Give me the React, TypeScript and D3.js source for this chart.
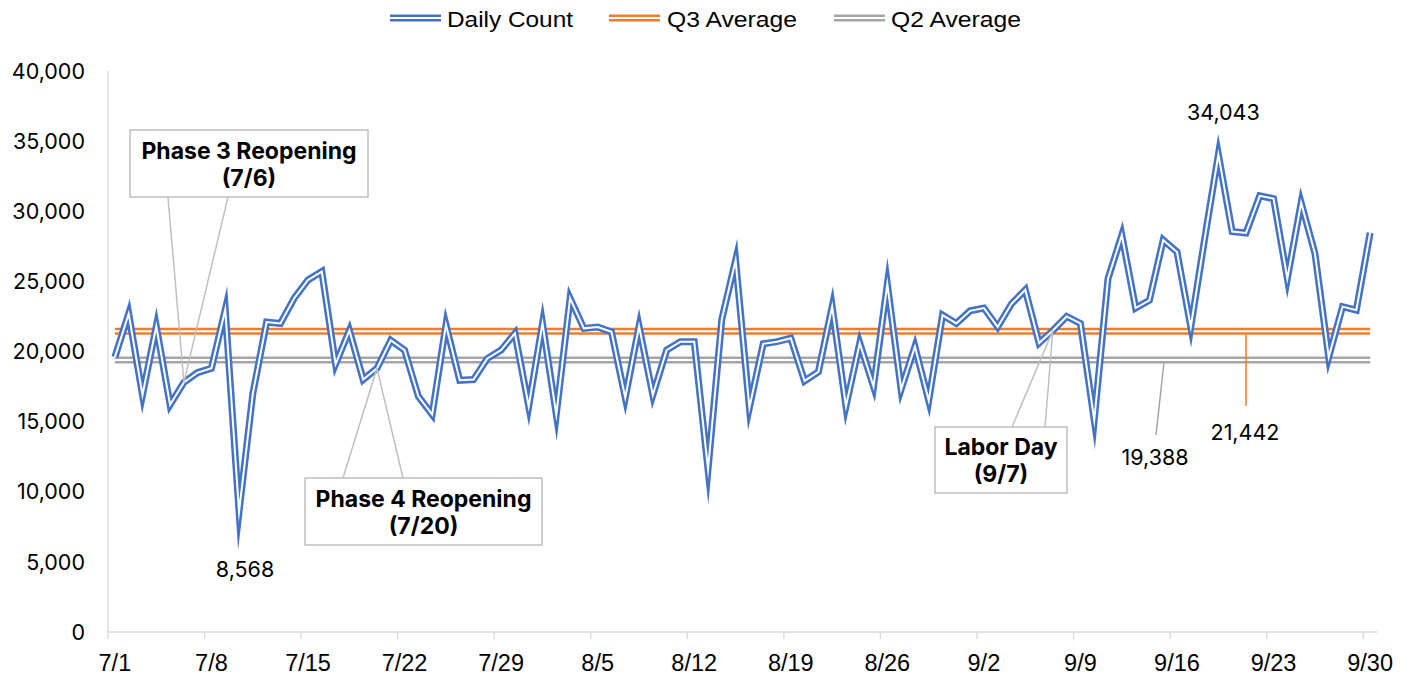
import React from "react";
import * as d3 from "d3";

// ---- data ----
const startDate = new Date(2020, 6, 1);
const endDate = new Date(2020, 9, 1);
const dates: Date[] = d3.timeDay.range(startDate, endDate);

const dailyCount: number[] = [
  19600, 22700, 16900, 21800, 16200, 17800, 18500, 18800, 23000, 8568,
  17000, 22100, 22000, 23800, 25100, 25700, 19100, 21500, 18000, 18800,
  20800, 20100, 16800, 15500, 21900, 17950, 18000, 19500, 20100, 21300,
  16100, 22000, 15500, 23800, 21650, 21750, 21400, 16700, 21800, 16900,
  20100, 20700, 20700, 11600, 22300, 26500, 16000, 20550, 20700, 20950,
  17900, 18550, 23200, 16100, 20600, 17500, 24800, 17300, 20350, 16500,
  22600, 22000, 22900, 23100, 21750, 23400, 24400, 20600, 21500, 22500,
  22000, 15100, 25200, 28300, 23100, 23650, 27950, 27100, 21750, 28000,
  34043, 28550, 28450, 31100, 30900, 25200, 30600, 27000, 19600, 23200,
  22950, 28450,
];
const q3Average = 21442;
const q2Average = 19388;

const seriesNames = ["Daily Count", "Q3 Average", "Q2 Average"];
const seriesColors = ["#4472C4", "#ED7D31", "#A5A5A5"];
const yTickValues = [0, 5000, 10000, 15000, 20000, 25000, 30000, 35000, 40000];

const callouts = [
  { lines: ["Phase 3 Reopening", "(7/6)"], index: 5, box: [130, 130, 238, 67], legs: [168, 228], fromTop: false },
  { lines: ["Phase 4 Reopening", "(7/20)"], index: 19, box: [305, 478, 237, 67], legs: [343, 403], fromTop: true },
  { lines: ["Labor Day", "(9/7)"], index: 68, box: [935, 427, 132, 66], legs: [1012, 1045], fromTop: true },
];

const W = 1401;
const H = 676;
const numFont = "Inter, 'Liberation Sans', Arial, sans-serif";
const axisFont = "'Liberation Sans', Arial, sans-serif";

function DoubleLine({ d, color }: { d: string; color: string }) {
  return (
    <g fill="none" strokeLinejoin="miter" strokeMiterlimit={20}>
      <path d={d} stroke={color} strokeWidth={7} />
      <path d={d} stroke="#fff" strokeWidth={2} />
    </g>
  );
}

export default function App() {
  const x = d3.scaleTime().domain([startDate, endDate]).range([108, 1377]);
  const px = (d: Date) => x(d3.timeHour.offset(d, 12));
  const y = d3.scaleLinear().domain([0, 40000]).range([632, 71]);
  const fmtDate = d3.timeFormat("%-m/%-d");
  const fmtNum = d3.format(",");

  const line = d3
    .line<number>()
    .x((_, i) => px(dates[i]))
    .y((v) => y(v));

  const dailyPath = line(dailyCount) || "";
  const q3Path = line(dates.map(() => q3Average)) || "";
  const q2Path = line(dates.map(() => q2Average)) || "";

  const weekTicks = dates.filter((_, i) => i % 7 === 0);

  const maxIdx = d3.maxIndex(dailyCount);
  const minIdx = d3.minIndex(dailyCount);

  const legendItems = [
    { x: 390, tx: 447, tw: 126 },
    { x: 609, tx: 667, tw: 130 },
    { x: 834, tx: 891, tw: 130 },
  ];

  return (
    <svg
      width={W}
      height={H}
      style={{ position: "absolute", left: 0, top: 0, background: "#fff" }}
    >
      <rect width={W} height={H} fill="#fff" />
      {/* legend */}
      <g>
        {legendItems.map((it, k) => (
          <g key={k}>
            <DoubleLine d={`M${it.x},18H${it.x + 51}`} color={seriesColors[k]} />
            <text
              x={it.tx}
              y={19}
              dy="0.36em"
              fontFamily={axisFont}
              fontSize={22}
              fill="#000"
              textLength={it.tw}
              lengthAdjust="spacingAndGlyphs"
            >
              {seriesNames[k]}
            </text>
          </g>
        ))}
      </g>

      {/* axes */}
      <line x1={108} x2={108} y1={71} y2={632} stroke="#D9D9D9" strokeWidth={1.3} />
      <line x1={108} x2={1377} y1={632} y2={632} stroke="#D9D9D9" strokeWidth={1.3} />
      {weekTicks.map((d, k) => (
        <g key={k}>
          <line x1={x(d)} x2={x(d)} y1={632} y2={639} stroke="#D9D9D9" strokeWidth={1.3} />
          <text
            x={px(d)}
            y={663}
            dy="0.36em"
            textAnchor="middle"
            fontFamily={axisFont}
            fontSize={23.5}
            fill="#000"
          >
            {fmtDate(d)}
          </text>
        </g>
      ))}
      {yTickValues.map((v) => (
        <text
          key={v}
          x={85}
          y={y(v)}
          dy="0.36em"
          textAnchor="end"
          fontFamily={numFont}
          fontSize={21.5}
          fill="#000"
        >
          {fmtNum(v)}
        </text>
      ))}

      {/* series */}
      <DoubleLine d={q2Path} color={seriesColors[2]} />
      <DoubleLine d={q3Path} color={seriesColors[1]} />
      <DoubleLine d={dailyPath} color={seriesColors[0]} />

      {/* value labels */}
      <text
        x={px(dates[maxIdx]) + 5}
        y={112}
        dy="0.36em"
        textAnchor="middle"
        fontFamily={numFont}
        fontSize={21.5}
        fill="#000"
      >
        {fmtNum(dailyCount[maxIdx])}
      </text>
      <text
        x={px(dates[minIdx]) + 6}
        y={569}
        dy="0.36em"
        textAnchor="middle"
        fontFamily={numFont}
        fontSize={21.5}
        fill="#000"
      >
        {fmtNum(dailyCount[minIdx])}
      </text>

      {/* average labels */}
      <line x1={1164} y1={y(q2Average) + 2} x2={1156} y2={435} stroke="#A5A5A5" strokeWidth={1.5} />
      <text x={1155} y={457} dy="0.36em" textAnchor="middle" fontFamily={numFont} fontSize={21.5} fill="#000">
        {fmtNum(q2Average)}
      </text>
      <line x1={1246} y1={y(q3Average) + 2} x2={1246} y2={406} stroke="#ED7D31" strokeWidth={1.5} />
      <text x={1245} y={432} dy="0.36em" textAnchor="middle" fontFamily={numFont} fontSize={21.5} fill="#000">
        {fmtNum(q3Average)}
      </text>

      {/* callouts */}
      {callouts.map((c, k) => {
        const [bx, by, bw, bh] = c.box;
        const tx = px(dates[c.index]);
        const ty = y(dailyCount[c.index]);
        const legY = c.fromTop ? by : by + bh;
        const cx = bx + bw / 2;
        const cy = by + bh / 2;
        return (
          <g key={k}>
            {c.legs.map((lx, j) => (
              <line key={j} x1={lx} y1={legY} x2={tx} y2={ty} stroke="#BFBFBF" strokeWidth={1.5} />
            ))}
            <rect x={bx} y={by} width={bw} height={bh} fill="#fff" stroke="#BFBFBF" strokeWidth={1.5} />
            {c.lines.map((t, j) => (
              <text
                key={j}
                x={cx}
                y={cy - 13 + j * 27}
                dy="0.36em"
                textAnchor="middle"
                fontFamily={numFont}
                fontWeight="bold"
                fontSize={23}
                fill="#000"
              >
                {t}
              </text>
            ))}
          </g>
        );
      })}
    </svg>
  );
}
